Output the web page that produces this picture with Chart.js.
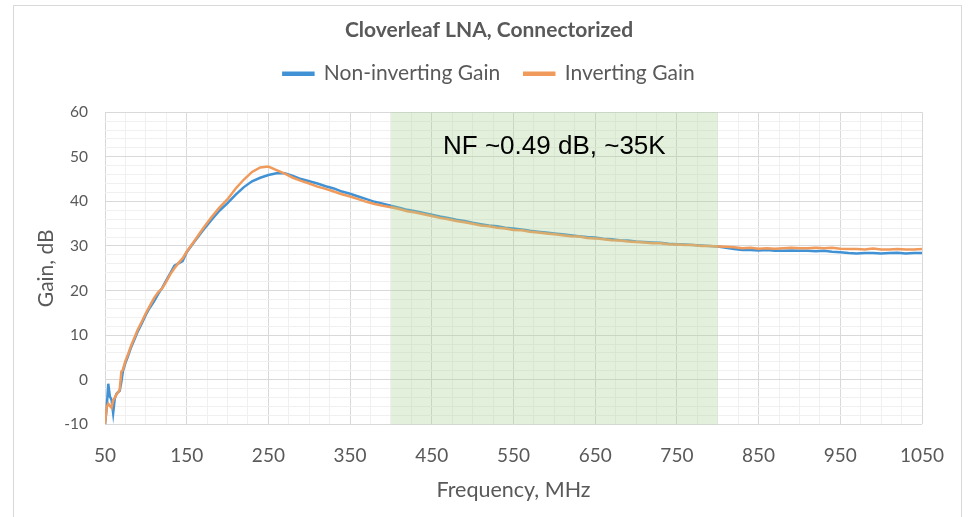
<!DOCTYPE html>
<html>
<head>
<meta charset="utf-8">
<title>Cloverleaf LNA, Connectorized</title>
<script src="https://cdn.jsdelivr.net/npm/chart.js@4.4.0/dist/chart.umd.min.js"></script>
<style>
  body { margin: 0; background: #fff; }
  #gain { display: block; }
</style>
</head>
<body>
<canvas id="gain" width="970" height="517"></canvas>
<script>
// frequency points, MHz
var freq = [50, 52, 54, 56, 58, 60, 62, 64, 66, 68, 70, 72, 75, 78, 82, 86, 90, 95, 100, 105, 110, 115, 120, 125, 130, 135, 140, 145, 150,
  160, 170, 180, 190, 200, 210, 220, 230, 240, 250, 260, 270, 280, 290, 300, 310, 320, 330, 340, 350,
  360, 370, 380, 390, 400, 410, 420, 430, 440, 450, 460, 470, 480, 490, 500, 510, 520, 530, 540, 550,
  560, 570, 580, 590, 600, 610, 620, 630, 640, 650, 660, 670, 680, 690, 700, 710, 720, 730, 740, 750,
  760, 770, 780, 790, 800, 810, 820, 830, 840, 850, 860, 870, 880, 890, 900, 910, 920, 930, 940, 950,
  960, 970, 980, 990, 1000, 1010, 1020, 1030, 1040, 1050];

// gain, dB
var nonInverting = [-10, -6.5, -0.9, -3.8, -4.5, -7.5, -4.2, -3.2, -2.8, -2.5, -0.5, 2.0, 3.8, 5.2, 7.3, 9.0, 10.8, 12.6, 14.6, 16.2, 17.6, 19.2, 20.6, 22.3, 23.9, 25.6, 26.1, 26.6, 28.6,
  31.1, 33.5, 35.8, 37.9, 39.6, 41.5, 43.2, 44.5, 45.3, 45.9, 46.3, 46.3, 45.7, 45.0, 44.5, 44.0, 43.4, 42.9, 42.2, 41.7,
  41.1, 40.5, 39.9, 39.5, 39.0, 38.6, 38.1, 37.8, 37.4, 37.0, 36.6, 36.3, 35.9, 35.6, 35.2, 34.9, 34.6, 34.4, 34.1, 33.9,
  33.7, 33.4, 33.2, 33.0, 32.8, 32.6, 32.4, 32.2, 32.0, 31.9, 31.6, 31.5, 31.3, 31.2, 31.0, 30.9, 30.8, 30.7, 30.5, 30.4,
  30.3, 30.2, 30.1, 30.0, 29.9, 29.6, 29.3, 29.1, 29.1, 29.0, 29.1, 28.9, 28.9, 29.0, 28.9, 28.9, 28.8, 28.9, 28.7, 28.6,
  28.4, 28.3, 28.4, 28.4, 28.3, 28.4, 28.5, 28.3, 28.4, 28.4];

var inverting = [-10, -6.2, -5.4, -5.9, -6.3, -4.6, -4.0, -3.3, -2.9, -2.2, 1.8, 2.3, 4.2, 5.6, 7.7, 9.4, 11.2, 13.0, 14.9, 16.6, 18.3, 19.6, 20.5, 22.0, 23.7, 25.0, 26.2, 27.2, 28.7,
  31.3, 33.9, 36.4, 38.6, 40.5, 42.9, 44.9, 46.6, 47.6, 47.8, 47.0, 46.2, 45.3, 44.6, 44.0, 43.3, 42.8, 42.2, 41.6, 41.1,
  40.5, 39.9, 39.4, 39.0, 38.7, 38.3, 37.8, 37.5, 37.1, 36.7, 36.3, 36.0, 35.6, 35.3, 35.0, 34.6, 34.4, 34.1, 33.9, 33.6,
  33.5, 33.2, 33.0, 32.8, 32.6, 32.4, 32.2, 32.1, 31.8, 31.7, 31.5, 31.3, 31.2, 31.0, 30.9, 30.8, 30.6, 30.6, 30.4, 30.3,
  30.2, 30.2, 30.0, 30.0, 29.9, 29.8, 29.7, 29.5, 29.6, 29.4, 29.5, 29.4, 29.5, 29.6, 29.5, 29.5, 29.6, 29.5, 29.6, 29.4,
  29.3, 29.3, 29.2, 29.4, 29.2, 29.2, 29.3, 29.2, 29.2, 29.3];

// shaded band and its note
var bandStart = 400;
var bandEnd = 800;
var bandNote = 'NF ~0.49 dB, ~35K';

var textColor = '#595959';

function points(ys) {
  return freq.map(function (f, i) { return {x: f, y: ys[i]}; });
}

var legendGap = {
  id: 'legendGap',
  beforeInit: function (chart) {
    var fit = chart.legend.fit;
    chart.legend.fit = function () {
      fit.bind(chart.legend)();
      this.height += 18;
    };
  },
  // title and legend are centred on the whole frame, not on the plot
  afterLayout: function (chart) {
    [chart.titleBlock, chart.legend].forEach(function (b) {
      b.left += 21;
      b.right += 21;
    });
  }
};

var frame = {
  id: 'frame',
  beforeDraw: function (chart) {
    var c = chart.ctx;
    c.save();
    c.strokeStyle = '#d9d9d9';
    c.lineWidth = 1;
    c.strokeRect(13.5, 5.5, 948, 600);
    c.restore();
  }
};

var band = {
  id: 'band',
  afterDatasetsDraw: function (chart) {
    var c = chart.ctx, x = chart.scales.x, y = chart.scales.y, a = chart.chartArea;
    var x0 = x.getPixelForValue(bandStart), x1 = x.getPixelForValue(bandEnd);
    c.save();
    c.fillStyle = 'rgba(169, 208, 142, 0.32)';
    c.fillRect(x0, a.top, x1 - x0, a.bottom - a.top);
    c.fillStyle = '#000';
    c.font = '26px "Liberation Sans", Arial, sans-serif';
    c.textAlign = 'center';
    c.textBaseline = 'alphabetic';
    c.fillText(bandNote, (x0 + x1) / 2, y.getPixelForValue(50.6));
    c.restore();
  }
};

Chart.defaults.font.family = 'Lato, "Noto Sans", sans-serif';
Chart.defaults.color = textColor;

new Chart(document.getElementById('gain'), {
  type: 'line',
  data: {
    datasets: [{
      label: 'Non-inverting Gain',
      data: points(nonInverting),
      borderColor: '#4192d4',
      backgroundColor: '#4192d4',
      borderWidth: 2.5,
      pointRadius: 0,
      order: 2
    }, {
      label: 'Inverting Gain',
      data: points(inverting),
      borderColor: '#f09a5c',
      backgroundColor: '#f09a5c',
      borderWidth: 2.5,
      pointRadius: 0,
      order: 1
    }]
  },
  options: {
    responsive: false,
    animation: false,
    layout: { padding: { left: 14, right: 48, top: 0, bottom: 0 } },
    plugins: {
      title: {
        display: true,
        text: 'Cloverleaf LNA, Connectorized',
        color: textColor,
        font: { size: 21, weight: 'bold' },
        padding: { top: 18, bottom: -4 }
      },
      legend: {
        display: true,
        labels: {
          color: textColor,
          font: { size: 21 },
          boxWidth: 30,
          boxHeight: 2,
          padding: 24,
          sort: function (a, b) { return a.datasetIndex - b.datasetIndex; }
        }
      },
      tooltip: { enabled: false }
    },
    scales: {
      x: {
        type: 'linear',
        min: 50,
        max: 1050,
        afterFit: function (s) { s.height = 92.7; },
        border: { display: false },
        grid: {
          drawTicks: false,
          color: function (ctx) { return (ctx.tick.value - 50) % 100 === 0 ? '#d9d9d9' : '#f0f0f0'; }
        },
        ticks: {
          stepSize: 25,
          autoSkip: false,
          maxRotation: 0,
          padding: 20,
          font: { size: 19 },
          callback: function (v) { return (v - 50) % 100 === 0 ? v : ''; }
        },
        title: {
          display: true,
          text: 'Frequency, MHz',
          font: { size: 21.5 },
          padding: { top: 0, bottom: 14 }
        }
      },
      y: {
        min: -10,
        max: 60,
        afterFit: function (s) { s.width = 91; },
        border: { display: false },
        grid: {
          drawTicks: false,
          color: function (ctx) { return ctx.tick.value % 10 === 0 ? '#d9d9d9' : '#f0f0f0'; }
        },
        ticks: {
          stepSize: 2,
          autoSkip: false,
          padding: 17,
          font: { size: 15.5 },
          callback: function (v) { return v % 10 === 0 ? v : ''; }
        },
        title: {
          display: true,
          text: 'Gain, dB',
          font: { size: 21 },
          padding: { top: 20, bottom: 0 }
        }
      }
    }
  },
  plugins: [legendGap, frame, band]
});
</script>
</body>
</html>
